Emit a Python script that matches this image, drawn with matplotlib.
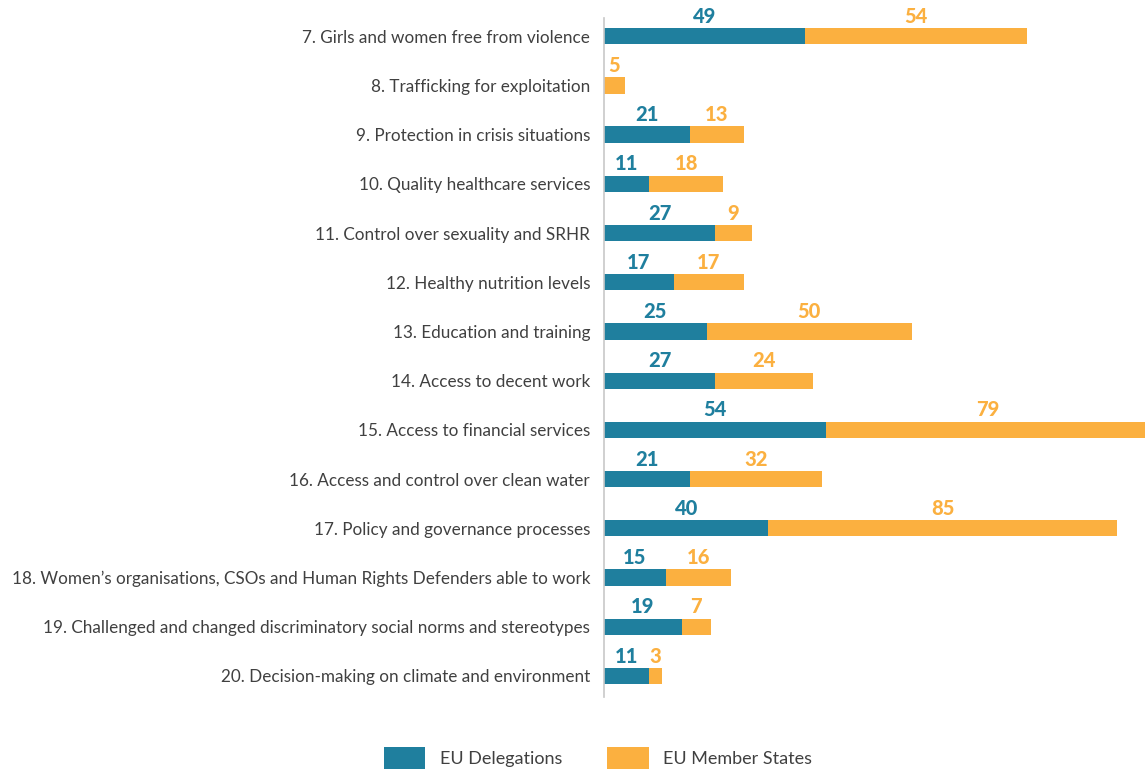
import matplotlib.pyplot as plt
import numpy as np

categories = [
    '7. Girls and women free from violence',
    '8. Trafficking for exploitation',
    '9. Protection in crisis situations',
    '10. Quality healthcare services',
    '11. Control over sexuality and SRHR',
    '12. Healthy nutrition levels',
    '13. Education and training',
    '14. Access to decent work',
    '15. Access to financial services',
    '16. Access and control over clean water',
    '17. Policy and governance processes',
    '18. Women\u2019s organisations, CSOs and Human Rights Defenders able to work',
    '19. Challenged and changed discriminatory social norms and stereotypes',
    '20. Decision-making on climate and environment',
]
delegations = [49, 0, 21, 11, 27, 17, 25, 27, 54, 21, 40, 15, 19, 11]
member_states = [54, 5, 13, 18, 9, 17, 50, 24, 79, 32, 85, 16, 7, 3]

TEAL = '#1f7f9e'
ORANGE = '#fbb040'
TEXT = '#404040'

plt.rcParams['font.family'] = ['Lato', 'DejaVu Sans']

fig = plt.figure(figsize=(11.45, 7.71), dpi=100)
ax = fig.add_axes([604 / 1145, 1 - 697 / 771, 1 - 604 / 1145, (697 - 18) / 771])

y = np.arange(len(categories))
d = np.array(delegations)
m = np.array(member_states)
ax.barh(y, d, height=0.33, color=TEAL, label='EU Delegations')
ax.barh(y, m, left=d, height=0.33, color=ORANGE, label='EU Member States')

# value labels above each segment
for yi, dv, mv in zip(y, d, m):
    if dv > 0:
        ax.text(dv / 2, yi - 0.21, str(dv), ha='center', va='bottom',
                color=TEAL, fontsize=14.5, fontweight='black')
    if mv > 0:
        ax.text(dv + mv / 2, yi - 0.21, str(mv), ha='center', va='bottom',
                color=ORANGE, fontsize=14.5, fontweight='black')

ax.set_xlim(0, 131.7)
ax.set_ylim(13.43, -0.37)
ax.set_yticks(y)
ax.set_yticklabels(categories, fontsize=12.3, color=TEXT)
ax.tick_params(axis='y', length=0, pad=10)
ax.set_xticks([])
for s in ['top', 'right', 'bottom']:
    ax.spines[s].set_visible(False)
ax.spines['left'].set_color('#c8c8c8')
ax.spines['left'].set_linewidth(1.2)

fig.legend(loc='center', bbox_to_anchor=(598 / 1145, 1 - 758 / 771), ncol=2,
           frameon=False, fontsize=13, handlelength=2.3, handleheight=1.5,
           columnspacing=2.5, labelcolor=TEXT)

fig.savefig('out.png', dpi=100)
